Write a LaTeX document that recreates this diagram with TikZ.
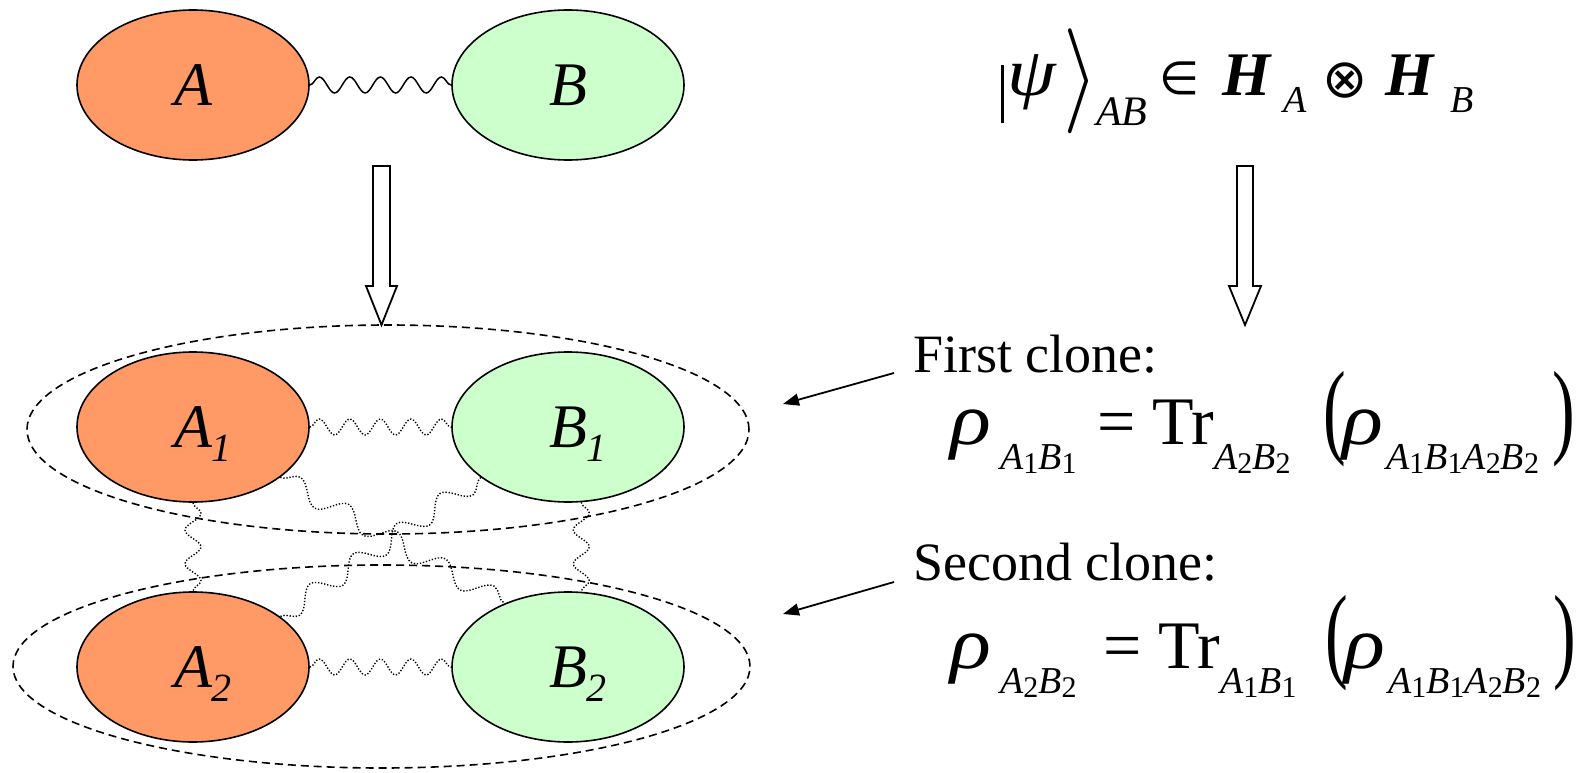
\RequirePackage{fix-cm}
\documentclass[tikz,border=0pt]{standalone}
\usepackage{fontspec}
\setmainfont{Liberation Serif}
\newfontfamily\symfont{DejaVu Sans}
\usepackage{graphicx}
\usetikzlibrary{shapes.geometric,decorations.pathmorphing,arrows.meta}
\definecolor{orangeA}{RGB}{255,153,102}
\definecolor{greenB}{RGB}{204,255,204}
\newcommand\fs[1]{\fontsize{#1}{#1}\selectfont}
\newcommand\sA[2]{{\fs{38}\itshape #1}\raisebox{-4pt}{\fs{30}#2}}
\newcommand\lsub[1]{\rlap{\raisebox{-14pt}[0pt][0pt]{\fs{40}#1}}}
\newcommand\bigrho{{\fs{74}\itshape\scalebox{1.15}[1]{ρ}}}
\begin{document}
\begin{tikzpicture}[x=1pt,y=-1pt,
  ell/.style={ellipse,draw,line width=1.6pt,minimum width=232pt,minimum height=150pt,inner sep=0pt,font=\fs{62}\itshape},
  aell/.style={ell,fill=orangeA},
  bell/.style={ell,fill=greenB},
  grp/.style={ellipse,draw,line width=1.6pt,dash pattern=on 8pt off 5pt,inner sep=0pt},
  wave/.style={decorate,decoration={snake,segment length=#1,amplitude=8pt}},
  solidwave/.style={wave=#1,line width=1.5pt},
  dotwave/.style={wave=#1,line width=1.4pt,dash pattern=on 1.3pt off 1.8pt},
  bigwave/.style={decorate,decoration={snake,segment length=#1,amplitude=10pt},line width=1.4pt,dash pattern=on 1.3pt off 1.8pt},
  blk/.style={draw,line width=1.8pt,fill=white,line join=miter},
  ptr/.style={-{Triangle[length=16pt,width=12pt]},line width=1.8pt},
  txt/.style={inner sep=0pt,anchor=base west}]
\useasboundingbox (0,0) rectangle (1587,773);

% group outlines
\node[grp,minimum width=722pt,minimum height=209pt] (g1) at (388,429.5) {};
\node[grp,minimum width=737pt,minimum height=203pt] (g2) at (381.5,666.5) {};

% particles
\node[aell] (A) at (193,85) {A};
\node[bell] (B) at (568,85) {B};
\node[aell] (A1) at (193,427) {A\lsub{\itshape 1}};
\node[bell] (B1) at (568,427) {B\lsub{\itshape 1}};
\node[aell] (A2) at (193,667) {A\lsub{2}};
\node[bell] (B2) at (568,667) {B\lsub{2}};

% entanglement
\draw[solidwave=30.52pt] (A.east) -- (B.west);
\draw[dotwave=30.52pt] (A1.east) -- (B1.west);
\draw[dotwave=30.52pt] (A2.east) -- (B2.west);
\draw[dotwave=33.6pt] (A1.south) -- (A2.north);
\draw[dotwave=33.95pt] (B1.-80) -- (B2.80);
\draw[bigwave=55.55pt] (A1.-30) -- (B2.135);
\draw[bigwave=52.72pt] (B1.-150) -- (A2.30);

% block arrows
\draw[blk] (373,166) -- (390,166) -- (390,286) -- (397,286) -- (381.5,325) -- (366,286) -- (373,286) -- cycle;
\draw[blk] (1237,166) -- (1253,166) -- (1253,286) -- (1261,286) -- (1245,325) -- (1229,286) -- (1237,286) -- cycle;

% top formula
\node[txt] (tbar) at (1001,96) {\raisebox{-27pt}{\rule{2.6pt}{58pt}}};
\node[txt] (tpsi) at (1007,96) {\fs{68}\itshape\scalebox{1.15}[1]{ψ}};
\node[txt] (tang) at (1063,96) {\raisebox{-11pt}{\scalebox{9}[10.5]{$\rangle$}}};
\node[txt] (tab) at (1096,125) {\fs{42}\itshape AB};
\node[txt] (tin) at (1159,95) {\scalebox{4.6}{\symfont ∈}};
\node[txt] (th1) at (1222,96) {\fs{62}\bfseries\itshape H};
\node[txt] (tsa) at (1283,113) {\fs{38}\itshape A};
\node[txt] (tot) at (1322,98) {\scalebox{5.4}{\symfont ⊗}};
\node[txt] (th2) at (1385,96) {\fs{62}\bfseries\itshape H};
\node[txt] (tsb) at (1450,113) {\fs{38}\itshape B};

% clone labels
\node[txt] (fc1) at (913,372) {\fs{54}First clone:};
\node[txt] (fc2) at (913,580) {\fs{54}Second clone:};

% first formula
\node[txt] (r1) at (950,444) {\bigrho};
\node[txt] (r1s) at (1000,469) {\sA{A}{1}\sA{B}{1}};
\node[txt] (r1eq) at (1097,444) {\fs{68}=};
\node[txt] (r1tr) at (1152,444) {\fs{68}Tr};
\node[txt] (r1ts) at (1214,469) {\sA{A}{2}\sA{B}{2}};
\node[txt] (r1lp) at (1323,444) {\fs{68}\scalebox{1}[1.55]{(}};
\node[txt] (r1r) at (1342,444) {\bigrho};
\node[txt] (r1rs) at (1386,469) {\sA{A}{1}\sA{B}{1}\sA{A}{2}\sA{B}{2}};
\node[txt] (r1rp) at (1552,444) {\fs{68}\scalebox{1}[1.55]{)}};

% second formula
\node[txt] (r2) at (950,668) {\bigrho};
\node[txt] (r2s) at (1000,693) {\sA{A}{2}\sA{B}{2}};
\node[txt] (r2eq) at (1103,668) {\fs{68}=};
\node[txt] (r2tr) at (1158,668) {\fs{68}Tr};
\node[txt] (r2ts) at (1220,693) {\sA{A}{1}\sA{B}{1}};
\node[txt] (r2lp) at (1325,668) {\fs{68}\scalebox{1}[1.55]{(}};
\node[txt] (r2r) at (1344,668) {\bigrho};
\node[txt] (r2rs) at (1388,693) {\sA{A}{1}\sA{B}{1}\sA{A}{2}\sA{B}{2}};
\node[txt] (r2rp) at (1553,668) {\fs{68}\scalebox{1}[1.55]{)}};

% pointers
\coordinate (p1s) at (894,373);
\coordinate (p1e) at (783,404);
\coordinate (p2s) at (894,582);
\coordinate (p2e) at (783,614);
\draw[ptr] (p1s) -- (p1e);
\draw[ptr] (p2s) -- (p2e);
\end{tikzpicture}
\end{document}
